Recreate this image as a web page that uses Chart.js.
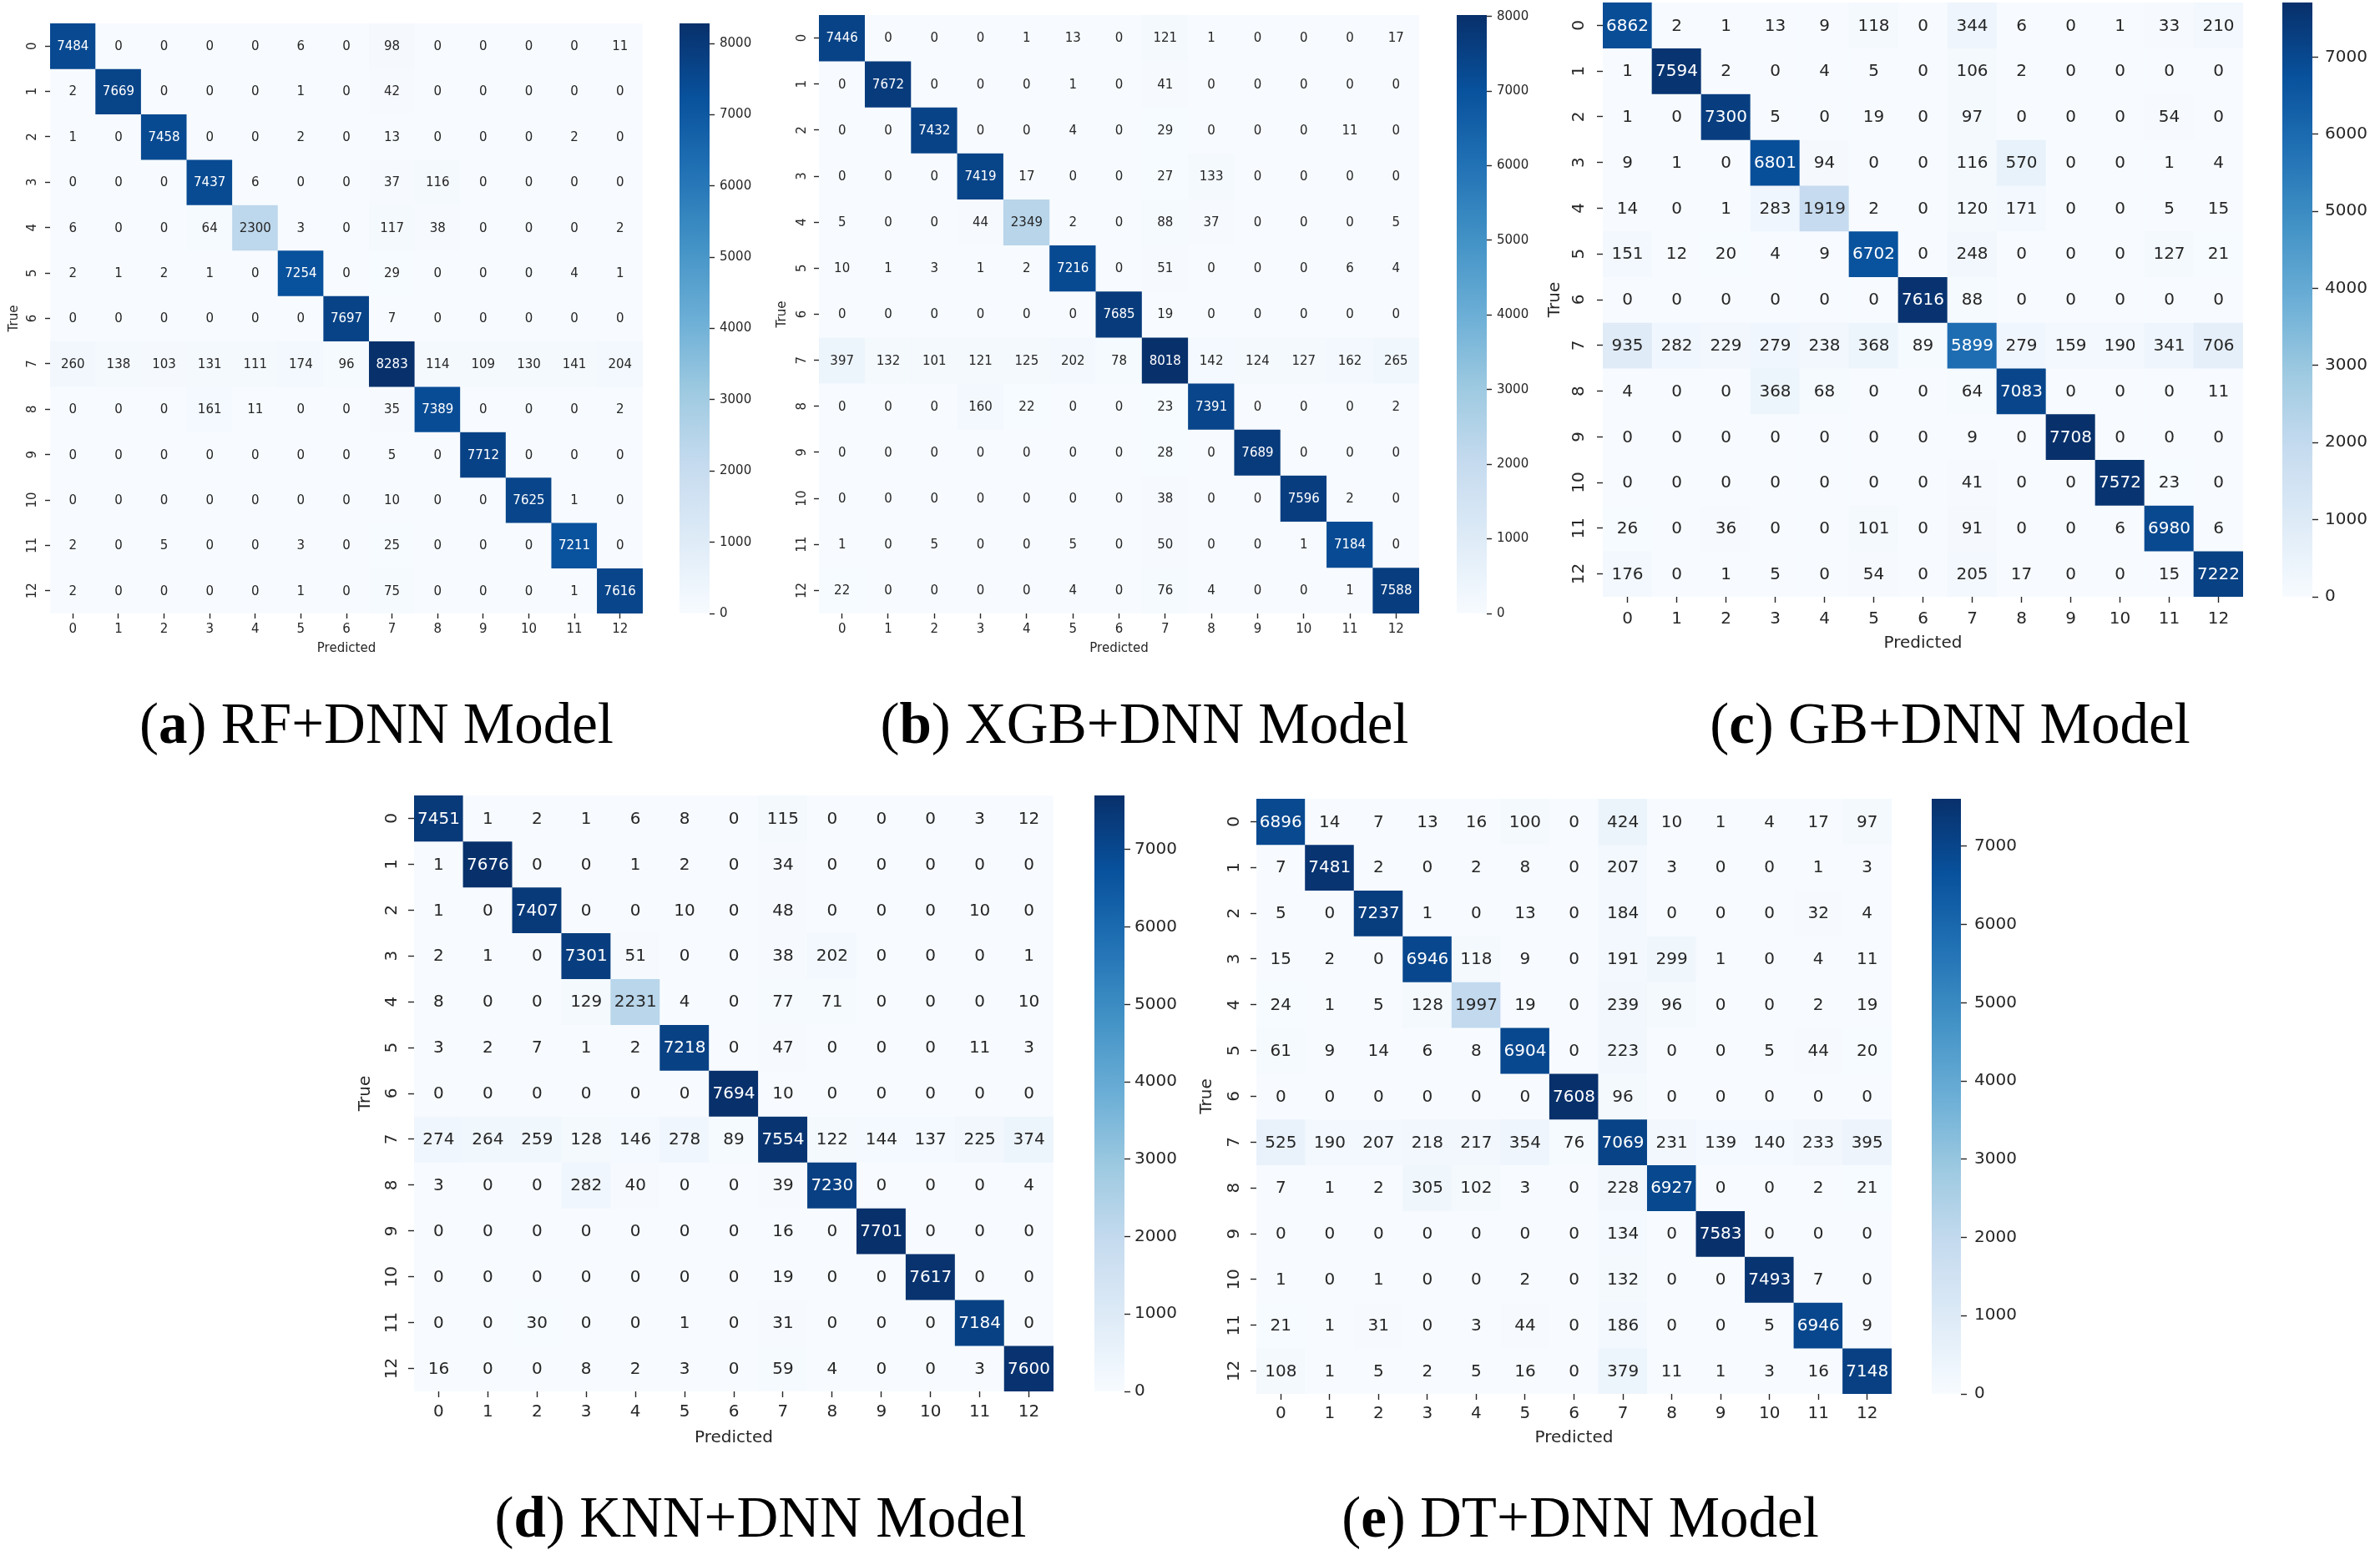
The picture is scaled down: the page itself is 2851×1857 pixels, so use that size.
<!DOCTYPE html>
<html>
<head>
<meta charset="utf-8">
<title>Confusion matrices</title>
<script src="https://cdn.jsdelivr.net/npm/chart.js@4.4.0/dist/chart.umd.min.js"></script>
<style>
  html, body { margin: 0; padding: 0; background: #fff; }
  body { width: 2851px; height: 1857px; position: relative; overflow: hidden; }
  canvas { position: absolute; }
  .caption {
    position: absolute; width: 1000px; text-align: center; white-space: nowrap;
    font-family: "Liberation Serif", serif; font-size: 69px; line-height: 69px; color: #000;
  }
</style>
</head>
<body>
<script>
var classLabels = ["0", "1", "2", "3", "4", "5", "6", "7", "8", "9", "10", "11", "12"];

var cmRF = [
    [7484, 0, 0, 0, 0, 6, 0, 98, 0, 0, 0, 0, 11],
    [2, 7669, 0, 0, 0, 1, 0, 42, 0, 0, 0, 0, 0],
    [1, 0, 7458, 0, 0, 2, 0, 13, 0, 0, 0, 2, 0],
    [0, 0, 0, 7437, 6, 0, 0, 37, 116, 0, 0, 0, 0],
    [6, 0, 0, 64, 2300, 3, 0, 117, 38, 0, 0, 0, 2],
    [2, 1, 2, 1, 0, 7254, 0, 29, 0, 0, 0, 4, 1],
    [0, 0, 0, 0, 0, 0, 7697, 7, 0, 0, 0, 0, 0],
    [260, 138, 103, 131, 111, 174, 96, 8283, 114, 109, 130, 141, 204],
    [0, 0, 0, 161, 11, 0, 0, 35, 7389, 0, 0, 0, 2],
    [0, 0, 0, 0, 0, 0, 0, 5, 0, 7712, 0, 0, 0],
    [0, 0, 0, 0, 0, 0, 0, 10, 0, 0, 7625, 1, 0],
    [2, 0, 5, 0, 0, 3, 0, 25, 0, 0, 0, 7211, 0],
    [2, 0, 0, 0, 0, 1, 0, 75, 0, 0, 0, 1, 7616]
];

var cmXGB = [
    [7446, 0, 0, 0, 1, 13, 0, 121, 1, 0, 0, 0, 17],
    [0, 7672, 0, 0, 0, 1, 0, 41, 0, 0, 0, 0, 0],
    [0, 0, 7432, 0, 0, 4, 0, 29, 0, 0, 0, 11, 0],
    [0, 0, 0, 7419, 17, 0, 0, 27, 133, 0, 0, 0, 0],
    [5, 0, 0, 44, 2349, 2, 0, 88, 37, 0, 0, 0, 5],
    [10, 1, 3, 1, 2, 7216, 0, 51, 0, 0, 0, 6, 4],
    [0, 0, 0, 0, 0, 0, 7685, 19, 0, 0, 0, 0, 0],
    [397, 132, 101, 121, 125, 202, 78, 8018, 142, 124, 127, 162, 265],
    [0, 0, 0, 160, 22, 0, 0, 23, 7391, 0, 0, 0, 2],
    [0, 0, 0, 0, 0, 0, 0, 28, 0, 7689, 0, 0, 0],
    [0, 0, 0, 0, 0, 0, 0, 38, 0, 0, 7596, 2, 0],
    [1, 0, 5, 0, 0, 5, 0, 50, 0, 0, 1, 7184, 0],
    [22, 0, 0, 0, 0, 4, 0, 76, 4, 0, 0, 1, 7588]
];

var cmGB = [
    [6862, 2, 1, 13, 9, 118, 0, 344, 6, 0, 1, 33, 210],
    [1, 7594, 2, 0, 4, 5, 0, 106, 2, 0, 0, 0, 0],
    [1, 0, 7300, 5, 0, 19, 0, 97, 0, 0, 0, 54, 0],
    [9, 1, 0, 6801, 94, 0, 0, 116, 570, 0, 0, 1, 4],
    [14, 0, 1, 283, 1919, 2, 0, 120, 171, 0, 0, 5, 15],
    [151, 12, 20, 4, 9, 6702, 0, 248, 0, 0, 0, 127, 21],
    [0, 0, 0, 0, 0, 0, 7616, 88, 0, 0, 0, 0, 0],
    [935, 282, 229, 279, 238, 368, 89, 5899, 279, 159, 190, 341, 706],
    [4, 0, 0, 368, 68, 0, 0, 64, 7083, 0, 0, 0, 11],
    [0, 0, 0, 0, 0, 0, 0, 9, 0, 7708, 0, 0, 0],
    [0, 0, 0, 0, 0, 0, 0, 41, 0, 0, 7572, 23, 0],
    [26, 0, 36, 0, 0, 101, 0, 91, 0, 0, 6, 6980, 6],
    [176, 0, 1, 5, 0, 54, 0, 205, 17, 0, 0, 15, 7222]
];

var cmKNN = [
    [7451, 1, 2, 1, 6, 8, 0, 115, 0, 0, 0, 3, 12],
    [1, 7676, 0, 0, 1, 2, 0, 34, 0, 0, 0, 0, 0],
    [1, 0, 7407, 0, 0, 10, 0, 48, 0, 0, 0, 10, 0],
    [2, 1, 0, 7301, 51, 0, 0, 38, 202, 0, 0, 0, 1],
    [8, 0, 0, 129, 2231, 4, 0, 77, 71, 0, 0, 0, 10],
    [3, 2, 7, 1, 2, 7218, 0, 47, 0, 0, 0, 11, 3],
    [0, 0, 0, 0, 0, 0, 7694, 10, 0, 0, 0, 0, 0],
    [274, 264, 259, 128, 146, 278, 89, 7554, 122, 144, 137, 225, 374],
    [3, 0, 0, 282, 40, 0, 0, 39, 7230, 0, 0, 0, 4],
    [0, 0, 0, 0, 0, 0, 0, 16, 0, 7701, 0, 0, 0],
    [0, 0, 0, 0, 0, 0, 0, 19, 0, 0, 7617, 0, 0],
    [0, 0, 30, 0, 0, 1, 0, 31, 0, 0, 0, 7184, 0],
    [16, 0, 0, 8, 2, 3, 0, 59, 4, 0, 0, 3, 7600]
];

var cmDT = [
    [6896, 14, 7, 13, 16, 100, 0, 424, 10, 1, 4, 17, 97],
    [7, 7481, 2, 0, 2, 8, 0, 207, 3, 0, 0, 1, 3],
    [5, 0, 7237, 1, 0, 13, 0, 184, 0, 0, 0, 32, 4],
    [15, 2, 0, 6946, 118, 9, 0, 191, 299, 1, 0, 4, 11],
    [24, 1, 5, 128, 1997, 19, 0, 239, 96, 0, 0, 2, 19],
    [61, 9, 14, 6, 8, 6904, 0, 223, 0, 0, 5, 44, 20],
    [0, 0, 0, 0, 0, 0, 7608, 96, 0, 0, 0, 0, 0],
    [525, 190, 207, 218, 217, 354, 76, 7069, 231, 139, 140, 233, 395],
    [7, 1, 2, 305, 102, 3, 0, 228, 6927, 0, 0, 2, 21],
    [0, 0, 0, 0, 0, 0, 0, 134, 0, 7583, 0, 0, 0],
    [1, 0, 1, 0, 0, 2, 0, 132, 0, 0, 7493, 7, 0],
    [21, 1, 31, 0, 3, 44, 0, 186, 0, 0, 5, 6946, 9],
    [108, 1, 5, 2, 5, 16, 0, 379, 11, 1, 3, 16, 7148]
];

var cbTicks8000 = [0, 1000, 2000, 3000, 4000, 5000, 6000, 7000, 8000];
var cbTicks7000 = [0, 1000, 2000, 3000, 4000, 5000, 6000, 7000];

var captionLetters = ["a", "b", "c", "d", "e"];
var captionNames = ["RF+DNN Model", "XGB+DNN Model", "GB+DNN Model", "KNN+DNN Model", "DT+DNN Model"];

// matplotlib "Blues" colour stops
var bluesStops = ["#f7fbff", "#deebf7", "#c6dbef", "#9ecae1", "#6baed6", "#4292c6", "#2171b5", "#08519c", "#08306b"];

// where each panel sits on the page
var panels = [
    { matrix: cmRF, ticks: cbTicks8000, heat: [60, 28, 770, 735], cbar: [814, 850], cbPad: 6, yLab: 39, yTitle: 17, xLab: 754, xTitle: 777, fs: 15, tl: 6, cap: [451, 833] },
    { matrix: cmXGB, ticks: cbTicks8000, heat: [981, 18, 1700, 735], cbar: [1745, 1781], cbPad: 6, yLab: 961, yTitle: 937, xLab: 754, xTitle: 777, fs: 15, tl: 6, cap: [1371, 833] },
    { matrix: cmGB, ticks: cbTicks7000, heat: [1920, 3, 2687, 715], cbar: [2734, 2770], cbPad: 8, yLab: 1892, yTitle: 1863, xLab: 742, xTitle: 771, fs: 20, tl: 7, cap: [2336, 833] },
    { matrix: cmKNN, ticks: cbTicks7000, heat: [496, 953, 1262, 1667], cbar: [1311, 1347], cbPad: 5, yLab: 470, yTitle: 438, xLab: 1692, xTitle: 1723, fs: 20, tl: 7, cap: [911, 1784] },
    { matrix: cmDT, ticks: cbTicks7000, heat: [1505, 957, 2266, 1670], cbar: [2314, 2349], cbPad: 9, yLab: 1479, yTitle: 1446, xLab: 1694, xTitle: 1723, fs: 20, tl: 7, cap: [1893, 1784] }
];

Chart.defaults.font.family = "'DejaVu Sans'";
Chart.defaults.color = "#262626";

function hexToRgb(h) {
    return [parseInt(h.substr(1, 2), 16), parseInt(h.substr(3, 2), 16), parseInt(h.substr(5, 2), 16)];
}

// linear interpolation through the Blues stops, t in [0, 1]
function bluesRgb(t) {
    t = Math.max(0, Math.min(1, t));
    var pos = t * (bluesStops.length - 1);
    var i = Math.min(Math.floor(pos), bluesStops.length - 2);
    var f = pos - i;
    var a = hexToRgb(bluesStops[i]), b = hexToRgb(bluesStops[i + 1]);
    return [0, 1, 2].map(function (k) { return Math.round(a[k] + (b[k] - a[k]) * f); });
}

function rgbStr(c) {
    return "rgb(" + c[0] + "," + c[1] + "," + c[2] + ")";
}

// same rule seaborn uses to pick annotation colour
function luminance(c) {
    var lin = c.map(function (v) {
        v = v / 255;
        return v <= 0.03928 ? v / 12.92 : Math.pow((v + 0.055) / 1.055, 2.4);
    });
    return 0.2126 * lin[0] + 0.7152 * lin[1] + 0.0722 * lin[2];
}

function maxOf(m) {
    var mx = 0;
    m.forEach(function (row) { row.forEach(function (v) { if (v > mx) mx = v; }); });
    return mx;
}

var measureCtx = document.createElement("canvas").getContext("2d");
function textWidth(s, size) {
    measureCtx.font = size + "px 'DejaVu Sans'";
    return measureCtx.measureText(s).width;
}

function makeCanvas(left, top, w, h) {
    var c = document.createElement("canvas");
    c.width = w;
    c.height = h;
    c.style.left = left + "px";
    c.style.top = top + "px";
    document.body.appendChild(c);
    return c;
}

function drawHeatmap(p) {
    var x0 = p.heat[0], y0 = p.heat[1], x1 = p.heat[2], y1 = p.heat[3];
    var lh = p.fs * 1.2;
    var cl = p.yTitle - 30, ct = y0 - 20, cr = x1 + 20;
    var cb = Math.round(p.xTitle + lh / 2 + 4);
    var canvas = makeCanvas(cl, ct, cr - cl, cb - ct);
    var vmax = maxOf(p.matrix);
    var widest = textWidth("12", p.fs);
    var font = { size: p.fs };

    var datasets = p.matrix.map(function (row, r) {
        return {
            data: row.map(function () { return [r - 0.5, r + 0.5]; }),
            backgroundColor: row.map(function (v) { return rgbStr(bluesRgb(v / vmax)); }),
            grouped: false,
            barPercentage: 1,
            categoryPercentage: 1
        };
    });

    // write the count in the middle of each cell
    var annotate = {
        id: "annotate",
        afterDatasetsDraw: function (chart) {
            var ctx = chart.ctx;
            ctx.save();
            ctx.font = p.fs + "px 'DejaVu Sans'";
            ctx.textAlign = "center";
            ctx.textBaseline = "middle";
            p.matrix.forEach(function (row, r) {
                var meta = chart.getDatasetMeta(r);
                meta.data.forEach(function (bar, j) {
                    var pr = bar.getProps(["x", "y", "base"], true);
                    var lum = luminance(bluesRgb(row[j] / vmax));
                    ctx.fillStyle = lum > 0.408 ? "#262626" : "#ffffff";
                    ctx.fillText(String(row[j]), pr.x, (pr.y + pr.base) / 2 + 1);
                });
            });
            ctx.restore();
        }
    };

    new Chart(canvas, {
        type: "bar",
        data: { labels: classLabels, datasets: datasets },
        plugins: [annotate],
        options: {
            responsive: false,
            animation: false,
            events: [],
            layout: { padding: { left: 0, top: y0 - ct, right: cr - x1, bottom: 0 } },
            plugins: { legend: { display: false }, tooltip: { enabled: false } },
            scales: {
                x: {
                    type: "category",
                    offset: true,
                    grid: { offset: false, drawOnChartArea: false, tickLength: p.tl, tickWidth: 1.4, tickColor: "#262626" },
                    border: { display: false },
                    ticks: { font: font, autoSkip: false, maxRotation: 0, padding: p.xLab - y1 - p.tl - lh / 2 },
                    title: { display: true, text: "Predicted", font: font, padding: { top: 0, bottom: 4 } },
                    afterFit: function (s) {
                        s.height = cb - y1;
                        s.paddingLeft = 0; s.paddingRight = 0;
                    }
                },
                y: {
                    type: "linear",
                    reverse: true,
                    min: -0.5,
                    max: 12.5,
                    grid: { drawOnChartArea: false, tickLength: p.tl, tickWidth: 1.4, tickColor: "#262626" },
                    border: { display: false },
                    afterBuildTicks: function (s) {
                        s.ticks = classLabels.map(function (l, i) { return { value: i }; });
                    },
                    ticks: {
                        font: font,
                        autoSkip: false,
                        minRotation: 90,
                        maxRotation: 90,
                        crossAlign: "center",
                        padding: x0 - p.tl - widest / 2 - p.yLab,
                        callback: function (v) { return classLabels[v]; }
                    },
                    title: { display: true, text: "True", font: font, padding: { top: (p.yTitle - cl) - lh / 2, bottom: 0 } },
                    afterFit: function (s) {
                        s.width = x0 - cl;
                        s.paddingTop = 0; s.paddingBottom = 0;
                    }
                }
            }
        }
    });
    return vmax;
}

function drawColorbar(p, vmax) {
    var bx0 = p.cbar[0], bx1 = p.cbar[1], y0 = p.heat[1], y1 = p.heat[3];
    var barW = bx1 - bx0, w = barW + 100, top = y0 - 20;
    var canvas = makeCanvas(bx0, top, w, (y1 - y0) + 40);
    new Chart(canvas, {
        type: "bar",
        data: {
            labels: ["cb"],
            datasets: [{
                data: [[0, vmax]],
                barPercentage: 1,
                categoryPercentage: 1,
                backgroundColor: function (c) {
                    var area = c.chart.chartArea;
                    if (!area) return bluesStops[4];
                    var g = c.chart.ctx.createLinearGradient(0, area.bottom, 0, area.top);
                    bluesStops.forEach(function (s, i) { g.addColorStop(i / (bluesStops.length - 1), s); });
                    return g;
                }
            }]
        },
        options: {
            responsive: false,
            animation: false,
            events: [],
            layout: { padding: { left: 0, top: 20, right: 0, bottom: 20 } },
            plugins: { legend: { display: false }, tooltip: { enabled: false } },
            scales: {
                x: { display: false },
                y: {
                    type: "linear",
                    position: "right",
                    min: 0,
                    max: vmax,
                    grid: { drawOnChartArea: false, tickLength: p.tl, tickWidth: 1.4, tickColor: "#262626" },
                    border: { display: false },
                    afterBuildTicks: function (s) {
                        s.ticks = p.ticks.map(function (v) { return { value: v }; });
                    },
                    ticks: { font: { size: p.fs }, padding: p.cbPad, callback: function (v) { return String(v); } },
                    afterFit: function (s) {
                        s.width = w - barW;
                        s.paddingTop = 0; s.paddingBottom = 0;
                    }
                }
            }
        }
    });
}

function drawCaption(p, i) {
    var d = document.createElement("div");
    d.className = "caption";
    d.style.left = (p.cap[0] - 500) + "px";
    d.style.top = p.cap[1] + "px";
    d.innerHTML = "(<b>" + captionLetters[i] + "</b>) " + captionNames[i];
    document.body.appendChild(d);
}

panels.forEach(function (p, i) {
    var vmax = drawHeatmap(p);
    drawColorbar(p, vmax);
    drawCaption(p, i);
});
</script>
</body>
</html>
